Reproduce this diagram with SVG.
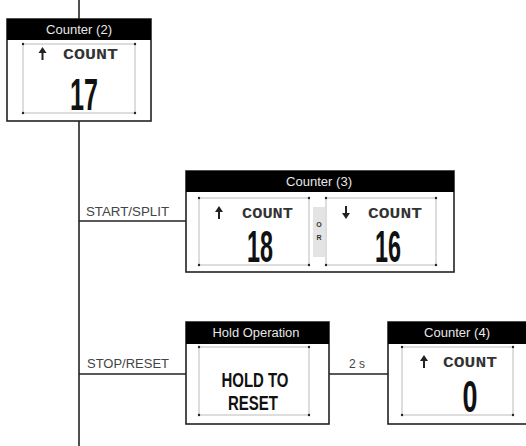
<svg xmlns="http://www.w3.org/2000/svg" width="526" height="446" viewBox="0 0 526 446">
<defs>
<style>
.box{fill:#fff;stroke:#222;stroke-width:1.6}
.hdr{fill:#000}
.ht{font-family:"Liberation Sans",Arial,sans-serif;font-size:12.5px;fill:#e6e6e6;text-anchor:middle}
.lcd{fill:none;stroke:#bbb;stroke-width:1}
.dot{fill:#222}
.cnt{font-family:"Liberation Mono","DejaVu Sans Mono",monospace;font-size:15px;font-weight:bold;fill:#333}
.big{font-family:"Liberation Sans",Arial,sans-serif;font-weight:bold;font-size:44px;fill:#111;text-anchor:middle}
.msg{font-family:"Liberation Sans",Arial,sans-serif;font-weight:bold;font-size:21px;fill:#111;text-anchor:middle}
.lbl{font-family:"Liberation Sans",Arial,sans-serif;font-size:12px;fill:#444}
.ln{stroke:#222;stroke-width:1.6;fill:none}
.arr{fill:#222}
</style>
</defs>
<g id="connectors">
<line class="ln" x1="79" y1="0" x2="79" y2="19"/>
<line class="ln" x1="79" y1="121" x2="79" y2="446"/>
<line class="ln" x1="79" y1="221" x2="186" y2="221"/>
<line class="ln" x1="79" y1="374" x2="186" y2="374"/>
<line class="ln" x1="329" y1="374" x2="388" y2="374"/>
<text class="lbl" x="86" y="216" textLength="83" lengthAdjust="spacingAndGlyphs">START/SPLIT</text>
<text class="lbl" x="87" y="368" textLength="82" lengthAdjust="spacingAndGlyphs">STOP/RESET</text>
<text class="lbl" x="357" y="368" text-anchor="middle">2 s</text>
</g>
<g id="counter2">
<rect class="box" x="7" y="19" width="144" height="102"/>
<rect class="hdr" x="7" y="19" width="144" height="21"/>
<text class="ht" x="79" y="34" textLength="66" lengthAdjust="spacingAndGlyphs">Counter (2)</text>
<rect class="lcd" x="23" y="44" width="112" height="69"/>
<circle class="dot" cx="23" cy="44" r="1.2"/><circle class="dot" cx="135" cy="44" r="1.2"/>
<circle class="dot" cx="23" cy="113" r="1.2"/><circle class="dot" cx="135" cy="113" r="1.2"/>
<path class="arr" d="M42.5 47 L46.5 53 L43.5 53 L43.5 60 L41.5 60 L41.5 53 L38.5 53 Z"/>
<text class="cnt" x="63" y="59" textLength="55" lengthAdjust="spacingAndGlyphs">COUNT</text>
<text class="big" x="84" y="110" textLength="28" lengthAdjust="spacingAndGlyphs">17</text>
</g>
<g id="counter3">
<rect class="box" x="186" y="171" width="268" height="101"/>
<rect class="hdr" x="186" y="171" width="268" height="21"/>
<text class="ht" x="319" y="186" textLength="66" lengthAdjust="spacingAndGlyphs">Counter (3)</text>
<rect class="lcd" x="199" y="198" width="110" height="67"/>
<circle class="dot" cx="199" cy="198" r="1.2"/><circle class="dot" cx="309" cy="198" r="1.2"/>
<circle class="dot" cx="199" cy="265" r="1.2"/><circle class="dot" cx="309" cy="265" r="1.2"/>
<path class="arr" d="M219 206 L223 212 L220 212 L220 219 L218 219 L218 212 L215 212 Z"/>
<text class="cnt" x="242" y="218" textLength="51" lengthAdjust="spacingAndGlyphs">COUNT</text>
<text class="big" x="260" y="262" textLength="26" lengthAdjust="spacingAndGlyphs">18</text>
<rect x="313" y="207" width="12" height="50" fill="#e4e4e4"/>
<text x="319" y="227" font-family="Liberation Sans,Arial,sans-serif" font-size="7" font-weight="bold" fill="#333" text-anchor="middle">O</text>
<text x="319" y="240" font-family="Liberation Sans,Arial,sans-serif" font-size="7" font-weight="bold" fill="#333" text-anchor="middle">R</text>
<rect class="lcd" x="326" y="198" width="110" height="67"/>
<circle class="dot" cx="326" cy="198" r="1.2"/><circle class="dot" cx="436" cy="198" r="1.2"/>
<circle class="dot" cx="326" cy="265" r="1.2"/><circle class="dot" cx="436" cy="265" r="1.2"/>
<path class="arr" d="M346 219 L350 213 L347 213 L347 206 L345 206 L345 213 L342 213 Z"/>
<text class="cnt" x="368" y="218" textLength="54" lengthAdjust="spacingAndGlyphs">COUNT</text>
<text class="big" x="388" y="262" textLength="26" lengthAdjust="spacingAndGlyphs">16</text>
</g>
<g id="hold">
<rect class="box" x="186" y="322" width="143" height="102"/>
<rect class="hdr" x="186" y="322" width="143" height="22"/>
<text class="ht" x="256" y="337" textLength="87" lengthAdjust="spacingAndGlyphs">Hold Operation</text>
<rect class="lcd" x="199" y="347" width="110" height="68"/>
<circle class="dot" cx="199" cy="347" r="1.2"/><circle class="dot" cx="309" cy="347" r="1.2"/>
<circle class="dot" cx="199" cy="415" r="1.2"/><circle class="dot" cx="309" cy="415" r="1.2"/>
<text class="msg" x="255" y="387" textLength="67" lengthAdjust="spacingAndGlyphs">HOLD TO</text>
<text class="msg" x="253" y="410" textLength="50" lengthAdjust="spacingAndGlyphs">RESET</text>
</g>
<g id="counter4">
<rect class="box" x="388" y="322" width="145" height="102"/>
<rect class="hdr" x="388" y="322" width="145" height="22"/>
<text class="ht" x="457" y="337" textLength="66" lengthAdjust="spacingAndGlyphs">Counter (4)</text>
<rect class="lcd" x="402" y="347" width="111" height="68"/>
<circle class="dot" cx="402" cy="347" r="1.2"/><circle class="dot" cx="513" cy="347" r="1.2"/>
<circle class="dot" cx="402" cy="415" r="1.2"/><circle class="dot" cx="513" cy="415" r="1.2"/>
<path class="arr" d="M424 355 L428 361 L425 361 L425 368 L423 368 L423 361 L420 361 Z"/>
<text class="cnt" x="443" y="367" textLength="54" lengthAdjust="spacingAndGlyphs">COUNT</text>
<text class="big" x="470" y="412" textLength="15" lengthAdjust="spacingAndGlyphs">0</text>
</g>
</svg>
